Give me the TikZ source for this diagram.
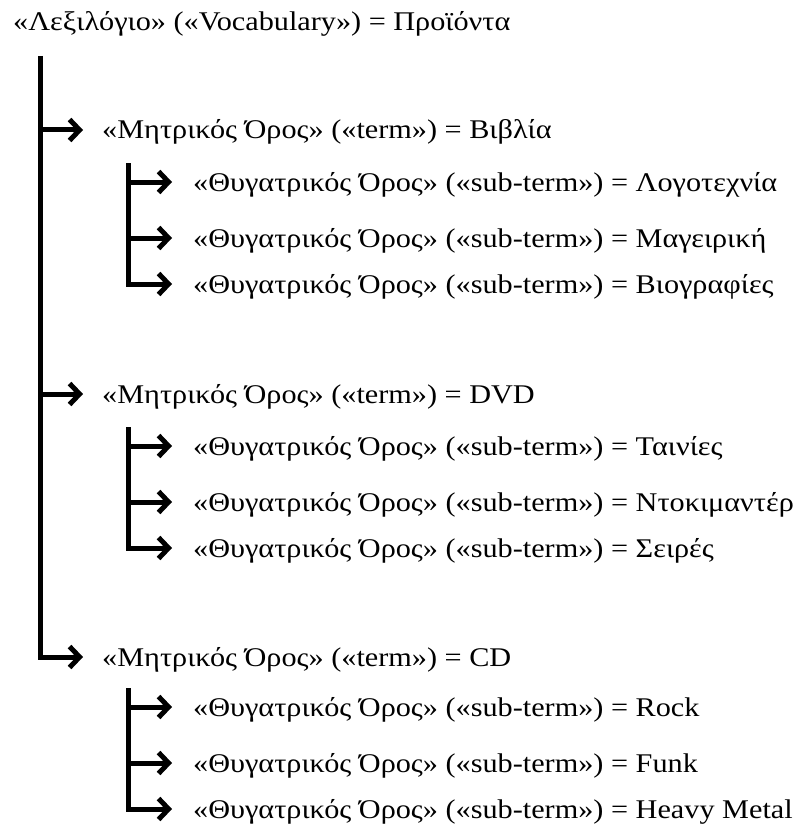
\documentclass[tikz,border=0pt]{standalone}
\usepackage{fontspec}
\setmainfont{Liberation Serif}[FakeStretch=1.12]
\usetikzlibrary{arrows.meta}

\tikzset{
    arr/.style={line width=5pt, -{Straight Barb[length=10pt, width=21pt]}},
    txt/.style={anchor=west, inner ysep=0pt, inner xsep=19pt, text height=18pt, text depth=0pt,
        font=\fontsize{27}{30}\selectfont},
    subtxt/.style={txt, inner xsep=21pt},
}

\begin{document}
\begin{tikzpicture}[x=1pt, y=-1pt]
        \useasboundingbox (0,0) rectangle (798,824);

        % Title line
        \node[txt, inner xsep=0pt] (lexicon) at (13,22) {«Λεξιλόγιο» («Vocabulary») = Προϊόντα};

        % Parent terms
        \node[txt] (t1) at (83,130) {«Μητρικός Όρος» («term») = Βιβλία};
        \node[txt] (t2) at (83,394) {«Μητρικός Όρος» («term») = DVD};
        \node[txt] (t3) at (83,657) {«Μητρικός Όρος» («term») = CD};

        % Sub-terms of Βιβλία
        \node[subtxt] (s11) at (172,182) {«Θυγατρικός Όρος» («sub-term») = Λογοτεχνία};
        \node[subtxt] (s12) at (172,238) {«Θυγατρικός Όρος» («sub-term») = Μαγειρική};
        \node[subtxt] (s13) at (172,284) {«Θυγατρικός Όρος» («sub-term») = Βιογραφίες};

        % Sub-terms of DVD
        \node[subtxt] (s21) at (172,446) {«Θυγατρικός Όρος» («sub-term») = Ταινίες};
        \node[subtxt] (s22) at (172,502) {«Θυγατρικός Όρος» («sub-term») = Ντοκιμαντέρ};
        \node[subtxt] (s23) at (172,548) {«Θυγατρικός Όρος» («sub-term») = Σειρές};

        % Sub-terms of CD
        \node[subtxt] (s31) at (172,707) {«Θυγατρικός Όρος» («sub-term») = Rock};
        \node[subtxt] (s32) at (172,763) {«Θυγατρικός Όρος» («sub-term») = Funk};
        \node[subtxt] (s33) at (172,809) {«Θυγατρικός Όρος» («sub-term») = Heavy Metal};

        % Main trunk
        \coordinate (root) at (40,56);
        \draw[arr] (root) |- (t3.west);
        \draw[arr] (root |- t1.west) -- (t1.west);
        \draw[arr] (root |- t2.west) -- (t2.west);

        % Branches
        \foreach \g/\top in {1/163, 2/427, 3/688} {
            \coordinate (b\g) at (128,\top);
            \draw[arr] (b\g) |- (s\g3.west);
            \draw[arr] (b\g |- s\g1.west) -- (s\g1.west);
            \draw[arr] (b\g |- s\g2.west) -- (s\g2.west);
        }
    \end{tikzpicture}
\end{document}
